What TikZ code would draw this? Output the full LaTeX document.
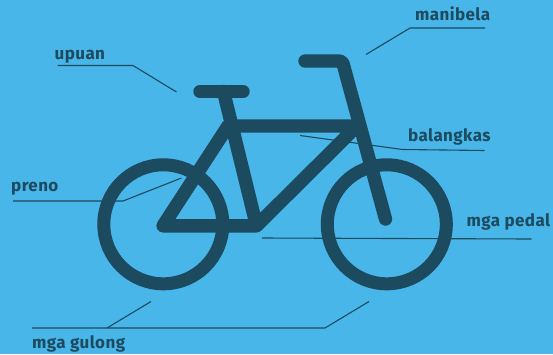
\documentclass[tikz,border=0pt]{standalone}
\usepackage{fontspec}
\setmainfont{Fira Sans}
\newfontfamily\labelfont[LetterSpace=2.4]{Fira Sans}
\definecolor{skybg}{HTML}{49B6E9}
\definecolor{bikeink}{HTML}{1C4A5E}
\tikzset{
  bikepart/.style={draw=bikeink,line width=13.4pt,line cap=round,line join=round},
  leader/.style={draw=bikeink,line width=1.1pt},
  partlabel/.style={text=bikeink,font=\fontsize{17}{19}\labelfont\bfseries,inner sep=0pt,anchor=base west},
  x=1pt,y=-1pt
}
\begin{document}
\begin{tikzpicture}
\useasboundingbox[fill=skybg] (0,0) rectangle (553,354);
% wheels
\node[circle,draw=bikeink,line width=13pt,minimum size=119pt,inner sep=0pt] (wheelL) at (163.3,224.3) {};
\node[circle,draw=bikeink,line width=13pt,minimum size=119pt,inner sep=0pt] (wheelR) at (386.8,224.3) {};
% frame
\draw[bikepart] (200,91.5) -- (243,91.5);
\draw[bikepart] (223.5,91.5) -- (256.5,225.8) -- (163,225.8) -- (228,126) -- (357,126) -- (256.5,225.8);
\draw[bikepart,rounded corners=3pt] (305,61) -- (342.3,61) -- (385.5,219);
% labels
\node[partlabel] (upuan) at (54.5,59) {upuan};
\node[partlabel] (manibela) at (415,20.7) {manibela};
\node[partlabel] (balangkas) at (408,141.5) {balangkas};
\node[partlabel] (preno) at (11,191) {preno};
\node[partlabel] (pedal) at (466.5,226) {mga pedal};
\node[partlabel] (gulong) at (32,348) {mga gulong};
% leader lines
\coordinate (u1) at (57.5,65.5); \coordinate (u2) at (133,65.5); \coordinate (u3) at (176.5,92);
\coordinate (m1) at (485,28); \coordinate (m2) at (410,28); \coordinate (m3) at (366,54.5);
\coordinate (b1) at (484.5,150.5); \coordinate (b2) at (402.7,149.5); \coordinate (b3) at (300,135.5);
\coordinate (p1) at (13,201); \coordinate (p2) at (123,201); \coordinate (p3) at (181.5,178);
\coordinate (d1) at (531.5,239); \coordinate (d2) at (262,238);
\coordinate (g1) at (32,328); \coordinate (g2) at (107,328); \coordinate (g3) at (151,301.5);
\coordinate (g4) at (325,328); \coordinate (g5) at (369,301.5);
\draw[leader] (u1) -- (u2) -- (u3);
\draw[leader] (m1) -- (m2) -- (m3);
\draw[leader] (b1) -- (b2) -- (b3);
\draw[leader] (p1) -- (p2) -- (p3);
\draw[leader] (d1) -- (d2);
\draw[leader] (g1) -- (g4) -- (g5);
\draw[leader] (g2) -- (g3);
\end{tikzpicture}
\end{document}
